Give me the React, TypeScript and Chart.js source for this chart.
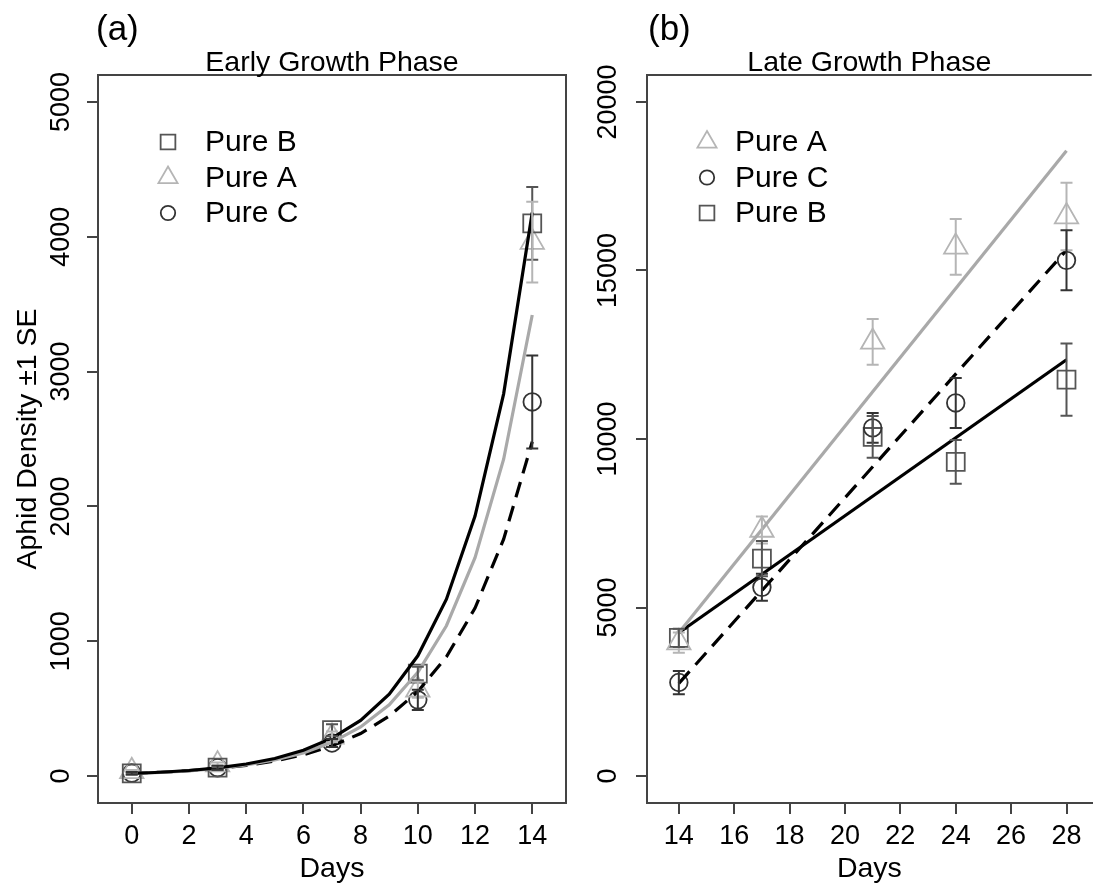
import React, { useEffect, useRef } from 'react';
import { Chart, registerables } from 'chart.js';

Chart.register(...registerables);

const FONT = '"Liberation Sans", Arial, Helvetica, sans-serif';
Chart.defaults.font.family = FONT;

// ---------- Panel (a): Early growth phase ----------
const daysEarly = [0, 3, 7, 10, 14];
const pureBEarly = [20, 62, 340, 760, 4100];
const pureBEarlySE = [10, 15, 45, 50, 270];
const pureAEarly = [35, 85, 290, 640, 3960];
const pureAEarlySE = [10, 15, 40, 60, 300];
const pureCEarly = [22, 62, 245, 565, 2775];
const pureCEarlySE = [8, 15, 30, 75, 345];

const fitDaysEarly = [0, 1, 2, 3, 4, 5, 6, 7, 8, 9, 10, 11, 12, 13, 14];
const fitBEarly = [19, 28, 41, 60, 89, 130, 191, 281, 413, 607, 892, 1312, 1928, 2835, 4180];
const fitAEarly = [18, 27, 39, 56, 82, 119, 172, 250, 364, 528, 770, 1115, 1620, 2350, 3420];
const fitCEarly = [20, 28, 40, 56, 79, 112, 158, 224, 315, 444, 627, 884, 1246, 1757, 2480];

const xTicksEarly = [0, 2, 4, 6, 8, 10, 12, 14];
const yTicksEarly = [0, 1000, 2000, 3000, 4000, 5000];

// ---------- Panel (b): Late growth phase ----------
const daysLate = [14, 17, 21, 24, 28];
const pureALate = [3960, 7300, 12880, 15700, 16600];
const pureALateSE = [300, 400, 680, 830, 1000];
const pureCLate = [2775, 5600, 10330, 11070, 15300];
const pureCLateSE = [345, 400, 440, 740, 890];
const pureBLate = [4100, 6450, 10060, 9320, 11760];
const pureBLateSE = [270, 520, 620, 650, 1070];

const fitDaysLate = [14, 28];
const fitALate = [4250, 18550];
const fitCLate = [2750, 15600];
const fitBLate = [4250, 12350];

const xTicksLate = [14, 16, 18, 20, 22, 24, 26, 28];
const yTicksLate = [0, 5000, 10000, 15000, 20000];

// ---------- styles ----------
const AXIS = '#444444';
const COL_B = '#555555';
const COL_A = '#b5b5b5';
const COL_C = '#333333';
const LINE_A = '#a9a9a9';
const TICK_FONT = 27;
const LABEL_FONT = 28.5;
const LEGEND_FONT = 30;

const pts = (xs: number[], ys: number[]) => xs.map((x, i) => ({ x, y: ys[i] }));

function drawMarker(ctx: CanvasRenderingContext2D, style: string, x: number, y: number, r: number) {
  ctx.beginPath();
  if (style === 'rect') {
    const h = r * Math.SQRT1_2;
    ctx.rect(x - h, y - h, 2 * h, 2 * h);
  } else if (style === 'triangle') {
    ctx.moveTo(x, y - r);
    ctx.lineTo(x + r * 0.866, y + r * 0.5);
    ctx.lineTo(x - r * 0.866, y + r * 0.5);
    ctx.closePath();
  } else {
    ctx.arc(x, y, r, 0, Math.PI * 2);
  }
  ctx.stroke();
}

const rDecor = {
  id: 'rDecor',
  afterDatasetsDraw(chart: any, _args: any, opts: any) {
    const ctx: CanvasRenderingContext2D = chart.ctx;
    const { left, right, top, bottom } = chart.chartArea;
    const xs = chart.scales.x;
    const ys = chart.scales.y;
    ctx.save();
    // error bars
    chart.data.datasets.forEach((ds: any) => {
      if (!ds.se) return;
      ctx.strokeStyle = ds.borderColor;
      ctx.lineWidth = 2;
      const cap = 6;
      ds.data.forEach((p: any, i: number) => {
        const x = xs.getPixelForValue(p.x);
        const y1 = ys.getPixelForValue(p.y - ds.se[i]);
        const y2 = ys.getPixelForValue(p.y + ds.se[i]);
        ctx.beginPath();
        ctx.moveTo(x, y1);
        ctx.lineTo(x, y2);
        ctx.moveTo(x - cap, y1);
        ctx.lineTo(x + cap, y1);
        ctx.moveTo(x - cap, y2);
        ctx.lineTo(x + cap, y2);
        ctx.stroke();
      });
    });
    // frame (top + optional right)
    ctx.strokeStyle = AXIS;
    ctx.lineWidth = 2;
    ctx.beginPath();
    ctx.moveTo(left - 1, top);
    ctx.lineTo(right, top);
    if (opts.rightBorder) ctx.lineTo(right, bottom + 1);
    ctx.stroke();
    // title
    ctx.fillStyle = '#000';
    ctx.font = `${LABEL_FONT}px ${FONT}`;
    ctx.textAlign = 'center';
    ctx.textBaseline = 'alphabetic';
    ctx.fillText(opts.title, (left + right) / 2, top - 4);
    // panel label
    ctx.font = `35px ${FONT}`;
    ctx.textAlign = 'left';
    ctx.fillText(opts.panel, left + opts.panelDx, 40);
    // legend
    ctx.font = `${LEGEND_FONT}px ${FONT}`;
    ctx.textBaseline = 'middle';
    opts.legend.forEach((lab: string, i: number) => {
      const ds: any = chart.data.datasets.find((d: any) => d.label === lab);
      if (!ds) return;
      const y = top + opts.legendY + i * opts.legendStep;
      ctx.strokeStyle = ds.borderColor;
      ctx.lineWidth = 1.8;
      drawMarker(ctx, ds.pointStyle, left + opts.legendSymX, y, ds.pointRadius * 0.82);
      ctx.fillStyle = '#000';
      ctx.fillText(lab, left + opts.legendTextX, y + 1);
    });
    ctx.restore();
  },
};

function axisCommon(ticksArr: number[], isY: boolean, size: number, pad: number, title: string | null, titlePad: any) {
  return {
    type: 'linear',
    afterBuildTicks: (s: any) => {
      s.ticks = ticksArr.map((v) => ({ value: v }));
    },
    afterFit: (s: any) => {
      if (isY) s.width = size;
      else s.height = size;
    },
    grid: { display: true, drawOnChartArea: false, drawTicks: true, tickLength: 11, color: AXIS, lineWidth: 2 },
    border: { display: true, color: AXIS, width: 2 },
    ticks: {
      color: '#000',
      font: { size: TICK_FONT, family: FONT },
      padding: pad,
      autoSkip: false,
      minRotation: isY ? 90 : 0,
      maxRotation: isY ? 90 : 0,
      crossAlign: isY ? 'center' : 'near',
      callback: (v: any) => String(v),
    },
    title: title
      ? { display: true, text: title, color: '#000', font: { size: LABEL_FONT, family: FONT }, padding: titlePad }
      : { display: false },
  };
}

function lineDs(label: string, xs: number[], ys: number[], color: string, dash: number[]) {
  return {
    label,
    data: pts(xs, ys),
    showLine: true,
    borderColor: color,
    borderWidth: 3.2,
    borderDash: dash,
    pointRadius: 0,
    fill: false,
    tension: 0,
  };
}

function pointDs(label: string, xs: number[], ys: number[], se: number[], style: string, r: number, color: string) {
  return {
    label,
    data: pts(xs, ys),
    se,
    showLine: false,
    pointStyle: style,
    pointRadius: r,
    borderColor: color,
    backgroundColor: 'rgba(0,0,0,0)',
    pointBorderWidth: 1.8,
  };
}

const R_SQ = 12.7;
const R_TRI = 13.5;
const R_CIR = 8.8;

function configEarly(): any {
  return {
    type: 'scatter',
    data: {
      datasets: [
        lineDs('fit B', fitDaysEarly, fitBEarly, '#000', []),
        lineDs('fit A', fitDaysEarly, fitAEarly, LINE_A, []),
        lineDs('fit C', fitDaysEarly, fitCEarly, '#000', [16, 9]),
        pointDs('Pure B', daysEarly, pureBEarly, pureBEarlySE, 'rect', R_SQ, COL_B),
        pointDs('Pure A', daysEarly, pureAEarly, pureAEarlySE, 'triangle', R_TRI, COL_A),
        pointDs('Pure C', daysEarly, pureCEarly, pureCEarlySE, 'circle', R_CIR, COL_C),
      ],
    },
    options: {
      responsive: false,
      animation: false,
      events: [],
      layout: { padding: { left: 0, right: 19, top: 75, bottom: 0 } },
      scales: {
        x: { ...axisCommon(xTicksEarly, false, 83, 6, 'Days', { top: 0, bottom: 0 }), min: -1.18, max: 15.18 },
        y: {
          ...axisCommon(yTicksEarly, true, 98, -5, 'Aphid Density ±1 SE', { top: 11, bottom: 0 }),
          min: -200,
          max: 5200,
        },
      },
      plugins: {
        legend: { display: false },
        tooltip: { enabled: false },
        title: { display: false },
        rDecor: {
          title: 'Early Growth Phase',
          panel: '(a)',
          panelDx: -2,
          rightBorder: true,
          legend: ['Pure B', 'Pure A', 'Pure C'],
          legendSymX: 70,
          legendTextX: 107,
          legendY: 67,
          legendStep: 35.5,
        },
      },
    },
    plugins: [rDecor],
  };
}

function configLate(): any {
  return {
    type: 'scatter',
    data: {
      datasets: [
        lineDs('fit A', fitDaysLate, fitALate, LINE_A, []),
        lineDs('fit C', fitDaysLate, fitCLate, '#000', [16, 9]),
        lineDs('fit B', fitDaysLate, fitBLate, '#000', []),
        pointDs('Pure A', daysLate, pureALate, pureALateSE, 'triangle', R_TRI, COL_A),
        pointDs('Pure C', daysLate, pureCLate, pureCLateSE, 'circle', R_CIR, COL_C),
        pointDs('Pure B', daysLate, pureBLate, pureBLateSE, 'rect', R_SQ, COL_B),
      ],
    },
    options: {
      responsive: false,
      animation: false,
      events: [],
      layout: { padding: { left: 0, right: 0, top: 75, bottom: 0 } },
      scales: {
        x: { ...axisCommon(xTicksLate, false, 83, 6, 'Days', { top: 0, bottom: 0 }), min: 12.85, max: 28.91 },
        y: { ...axisCommon(yTicksLate, true, 62, -10, null, null), min: -800, max: 20800 },
      },
      plugins: {
        legend: { display: false },
        tooltip: { enabled: false },
        title: { display: false },
        rDecor: {
          title: 'Late Growth Phase',
          panel: '(b)',
          panelDx: 1,
          rightBorder: false,
          legend: ['Pure A', 'Pure C', 'Pure B'],
          legendSymX: 60,
          legendTextX: 88,
          legendY: 67,
          legendStep: 35.5,
        },
      },
    },
    plugins: [rDecor],
  };
}

function Panel({ make, left, width }: { make: () => any; left: number; width: number }) {
  const ref = useRef<HTMLCanvasElement>(null);
  useEffect(() => {
    const chart = new Chart(ref.current as HTMLCanvasElement, make());
    return () => chart.destroy();
  }, []);
  return (
    <canvas
      ref={ref}
      width={width}
      height={886}
      style={{ position: 'absolute', left, top: 0, width, height: 886 }}
    />
  );
}

export default function App() {
  return (
    <div
      style={{
        position: 'fixed',
        left: 0,
        top: 0,
        width: 1107,
        height: 886,
        background: '#fff',
        overflow: 'hidden',
      }}
    >
      <Panel make={configEarly} left={0} width={585} />
      <Panel make={configLate} left={585} width={522} />
    </div>
  );
}
